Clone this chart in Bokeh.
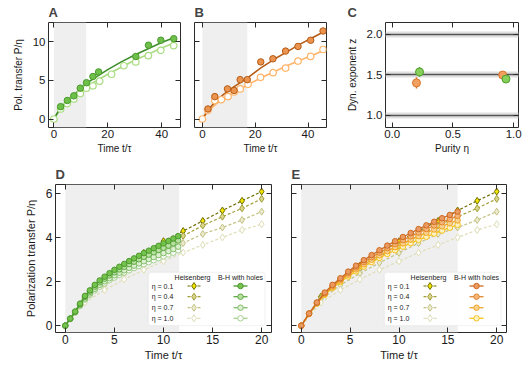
from bokeh.plotting import figure
from bokeh.layouts import column, row
from bokeh.models import (LinearAxis, FixedTicker, BoxAnnotation, Label, Range1d,
                          PrintfTickFormatter)
from bokeh.embed import file_html
from bokeh.resources import INLINE

FONT = "Liberation Sans"

# ---------------- Panel A data (green) ----------------
tA_fill = [2.5, 5.0, 7.4, 9.8, 12.1, 14.5, 16.6, 30.4, 35.1, 39.7, 44.5]
PA_fill = [1.6, 2.4, 3.0, 4.0, 4.7, 5.5, 6.1, 8.1, 9.56, 10.2, 10.4]
errA = [0.3, 0.3, 0.3, 0.3, 0.3, 0.3, 0.3, 0.3, 0.3, 0.3, 0.3]
tA_open = [0, 2.5, 5.0, 7.4, 9.8, 12.1, 14.5, 17.0, 21.4, 26.0, 30.4, 35.1, 39.7, 44.5]
PA_open = [0, 1.3, 2.0, 2.6, 3.3, 4.0, 4.3, 4.9, 5.8, 6.9, 7.4, 8.2, 8.9, 9.5]
tA_fit = [0, 2, 5, 8, 12, 15, 20, 25, 30, 35, 40, 45]
PA_fit_dark = [0, 1.2, 2.4, 3.3, 4.6, 5.3, 6.4, 7.4, 8.3, 9.1, 9.9, 10.6]
PA_fit_light = [0, 1.05, 2.1, 3.0, 4.1, 4.8, 5.8, 6.7, 7.6, 8.4, 9.2, 9.9]
shade_A = 12

# ---------------- Panel B data (orange) ----------------
tB_fill = [2.1, 4.7, 9.5, 12.0, 14.3, 17.0, 22.1, 26.7, 31.5, 36.2, 41.0, 45.7]
PB_fill = [1.3, 2.9, 3.9, 3.7, 5.1, 5.1, 7.4, 7.8, 8.8, 9.4, 10.2, 11.4]
errB = [0.3, 0.3, 0.3, 0.3, 0.3, 0.3, 0.3, 0.3, 0.3, 0.3, 0.3, 0.3]
tB_open = [0, 2.1, 4.7, 7.2, 9.7, 12.0, 14.3, 17.3, 22.0, 26.8, 31.5, 36.2, 41.0, 45.7]
PB_open = [0, 1.1, 2.4, 2.5, 2.9, 3.5, 3.9, 4.5, 5.4, 6.0, 6.6, 7.5, 8.1, 9.0]
tB_fit = [0, 2, 5, 8, 12, 17, 22, 27, 32, 37, 42, 46]
PB_fit_dark = [0, 1.1, 2.3, 3.2, 4.2, 5.3, 6.6, 7.7, 8.7, 9.7, 10.6, 11.3]
PB_fit_light = [0, 0.95, 1.9, 2.6, 3.4, 4.4, 5.3, 6.1, 6.9, 7.6, 8.3, 8.9]
shade_B = 17

# ---------------- Panel C data ----------------
z_levels = [1.0, 1.5, 2.0]
C_orange_eta = [0.20, 0.91]
C_orange_z = [1.40, 1.497]
C_orange_err = [0.07, 0.02]
C_green_eta = [0.225, 0.937]
C_green_z = [1.535, 1.448]
C_green_err = [0.06, 0.02]

# ---------------- Panels D/E data ----------------
eta_labels = ["η = 0.1", "η = 0.4", "η = 0.7", "η = 1.0"]
t_heis = [0, 2, 4, 6, 8, 10, 12, 14, 16, 18, 20]
P_heis = [
    [0, 1.31, 2.08, 2.72, 3.30, 3.83, 4.29, 4.75, 5.22, 5.66, 6.08],
    [0, 1.26, 1.98, 2.58, 3.12, 3.62, 4.07, 4.54, 4.94, 5.32, 5.75],
    [0, 1.18, 1.84, 2.37, 2.85, 3.30, 3.74, 4.16, 4.45, 4.79, 5.17],
    [0, 1.05, 1.62, 2.10, 2.53, 2.92, 3.31, 3.66, 4.00, 4.34, 4.60],
]
t_D = [0, 0.5, 1, 1.5, 2, 2.5, 3, 3.5, 4, 4.5, 5, 5.5, 6, 6.5, 7, 7.5, 8, 8.5, 9, 9.5,
       10, 10.5, 11, 11.5]
P_D = [
    [0, 0.32, 0.64, 1.0, 1.35, 1.6, 1.85, 2.05, 2.22, 2.38, 2.53, 2.67, 2.8, 2.93, 3.05,
     3.17, 3.29, 3.4, 3.51, 3.62, 3.73, 3.84, 3.95, 4.06],
    [0, 0.32, 0.63, 0.97, 1.3, 1.54, 1.77, 1.96, 2.13, 2.28, 2.42, 2.55, 2.67, 2.79, 2.9,
     3.01, 3.12, 3.22, 3.33, 3.43, 3.53, 3.63, 3.73, 3.86],
    [0, 0.31, 0.61, 0.93, 1.23, 1.46, 1.67, 1.85, 2.01, 2.15, 2.28, 2.4, 2.51, 2.62, 2.72,
     2.82, 2.92, 3.02, 3.11, 3.2, 3.29, 3.38, 3.47, 3.58],
    [0, 0.3, 0.6, 0.9, 1.18, 1.4, 1.6, 1.77, 1.92, 2.06, 2.18, 2.3, 2.41, 2.51, 2.61,
     2.7, 2.79, 2.88, 2.97, 3.06, 3.14, 3.23, 3.31, 3.42],
]
shade_D = 11.6
t_E = [0, 0.8, 1.6, 2.4, 3.2, 4.0, 4.8, 5.6, 6.4, 7.2, 8.0, 8.8, 9.6, 10.4, 11.2, 12.0,
       12.8, 13.6, 14.4, 15.2, 16.0]
P_E = [
    [0, 0.55, 1.05, 1.5, 1.85, 2.15, 2.45, 2.72, 2.97, 3.2, 3.42, 3.63, 3.83, 4.02, 4.2,
     4.38, 4.55, 4.71, 4.87, 5.02, 5.17],
    [0, 0.55, 1.04, 1.47, 1.81, 2.1, 2.38, 2.64, 2.88, 3.1, 3.31, 3.51, 3.7, 3.88, 4.05,
     4.22, 4.38, 4.54, 4.69, 4.84, 4.98],
    [0, 0.54, 1.02, 1.43, 1.76, 2.04, 2.31, 2.55, 2.78, 2.99, 3.19, 3.38, 3.56, 3.73, 3.9,
     4.06, 4.21, 4.36, 4.5, 4.64, 4.77],
    [0, 0.53, 1.0, 1.4, 1.71, 1.98, 2.23, 2.46, 2.68, 2.88, 3.07, 3.25, 3.42, 3.58, 3.74,
     3.89, 4.03, 4.17, 4.31, 4.44, 4.57],
]
shade_E = 16

# colours
H_line = ["#6e6e00", "#a29e38", "#c4c184", "#dfddb6"]
H_fill = ["#f2e400", "#d9d68c", "#ecebcd", "#ffffff"]
G_line = ["#4a9a2c", "#5fa842", "#82bd68", "#a6d18e"]
G_fill = ["#76c24e", "#b8e0a0", "#dcefd0", "#ffffff"]
O_line = ["#cc6a22", "#e2872e", "#f0a524", "#f7c21a"]
O_fill = ["#eb9a62", "#f5b577", "#f9d28f", "#fff2c4"]
FRAME = "#2b2b2b"
SHADE = "#efefef"


def hide_labels(ax):
    ax.major_label_text_font_size = "0px"
    ax.major_label_text_color = None
    ax.major_label_standoff = 0


def panel(width, height, xr, yr, borders, xticks, yticks, xlabel, ylabel, ylabels_on,
          letter, letter_offset, letter_standoff, tick_fs, label_fs, fmt=None):
    l, r, t, b = borders
    p = figure(width=width, height=height, x_range=Range1d(*xr), y_range=Range1d(*yr),
               output_backend="svg", toolbar_location=None,
               min_border_left=l, min_border_right=r, min_border_top=t, min_border_bottom=b)
    p.outline_line_color = FRAME
    p.outline_line_width = 1
    p.grid.grid_line_color = None
    top_ax = LinearAxis()
    right_ax = LinearAxis()
    p.add_layout(top_ax, "above")
    p.add_layout(right_ax, "right")
    for ax in p.xaxis:
        ax.ticker = FixedTicker(ticks=xticks)
    for ax in p.yaxis:
        ax.ticker = FixedTicker(ticks=yticks)
    for ax in p.axis:
        if fmt is not None:
            ax.formatter = PrintfTickFormatter(format=fmt)
        ax.axis_line_color = None
        ax.major_tick_in = 5
        ax.major_tick_out = 0
        ax.major_tick_line_color = FRAME
        ax.minor_tick_line_color = None
        ax.major_label_text_font = FONT
        ax.major_label_text_font_size = tick_fs
        ax.major_label_text_color = "#1a1a1a"
        ax.axis_label_text_font = FONT
        ax.axis_label_text_font_size = label_fs
        ax.axis_label_text_font_style = "normal"
        ax.axis_label_text_color = "#1a1a1a"
    bottom = p.below[0]
    left = p.left[0]
    bottom.axis_label = xlabel
    bottom.major_label_standoff = 2
    bottom.axis_label_standoff = 2
    hide_labels(top_ax)
    hide_labels(right_ax)
    if ylabels_on:
        left.axis_label = ylabel
        left.major_label_standoff = 3
        left.axis_label_standoff = 6
    else:
        hide_labels(left)
    p.title.text = letter
    p.title.text_font = FONT
    p.title.text_font_size = "13px"
    p.title.text_font_style = "bold"
    p.title.align = "left"
    p.title.offset = letter_offset
    p.title.standoff = letter_standoff
    return p


# ---------------- A ----------------
pA = panel(188, 160, (-2, 47), (-1.1, 12.5), (48, 8, 22, 33), [0, 20, 40], [0, 5, 10],
           "Time t/τ", "Pol. transfer P/η", True, "A", 0, 5, "11.5px", "10px")
pA.add_layout(BoxAnnotation(left=0, right=shade_A, fill_color=SHADE, fill_alpha=1,
                            line_color=None, level="underlay"))
pA.line(tA_fit, PA_fit_light, line_color="#a9dc80", line_width=1.6)
pA.line(tA_fit, PA_fit_dark, line_color="#3e8e2a", line_width=1.6)
pA.scatter(tA_open, PA_open, size=6.5, marker="circle", fill_color="white",
           line_color="#a9dc80", line_width=1.2)
pA.segment(x0=tA_fill, y0=[v - e for v, e in zip(PA_fill, errA)], x1=tA_fill,
           y1=[v + e for v, e in zip(PA_fill, errA)], line_color="#3e8e2a", line_width=1.2)
pA.scatter(tA_fill, PA_fill, size=6.5, marker="circle", fill_color="#6fbf4b",
           line_color="#4a9a2c", line_width=1)

# ---------------- B ----------------
pB = panel(146, 160, (-3, 47), (-1.1, 12.5), (6, 8, 22, 33), [0, 20, 40], [0, 5, 10],
           "Time t/τ", "", False, "B", 0, 5, "11.5px", "10px")
pB.add_layout(BoxAnnotation(left=0, right=shade_B, fill_color=SHADE, fill_alpha=1,
                            line_color=None, level="underlay"))
pB.line(tB_fit, PB_fit_light, line_color="#ffb469", line_width=1.6)
pB.line(tB_fit, PB_fit_dark, line_color="#b65c16", line_width=1.6)
pB.scatter(tB_open, PB_open, size=6.5, marker="circle", fill_color="white",
           line_color="#ffb469", line_width=1.2)
pB.segment(x0=tB_fill, y0=[v - e for v, e in zip(PB_fill, errB)], x1=tB_fill,
           y1=[v + e for v, e in zip(PB_fill, errB)], line_color="#b65c16", line_width=1.2)
pB.scatter(tB_fill, PB_fill, size=6.5, marker="circle", fill_color="#ea9450",
           line_color="#b65c16", line_width=1)

# ---------------- C ----------------
pC = panel(195, 160, (-0.055, 1.04), (0.85, 2.145), (51, 11, 22, 33), [0, 0.5, 1.0],
           [1.0, 1.5, 2.0], "Purity η", "Dyn. exponent z", True, "C", -38, 5, "11.5px",
           "10px", fmt="%.1f")
pC.hspan(y=z_levels, line_width=6, line_color="#e0e0e0")
pC.hspan(y=z_levels, line_width=1.6, line_color="#555555")
pC.segment(x0=C_orange_eta, y0=[v - e for v, e in zip(C_orange_z, C_orange_err)],
           x1=C_orange_eta, y1=[v + e for v, e in zip(C_orange_z, C_orange_err)],
           line_color="#d8742a", line_width=1.5)
pC.scatter(C_orange_eta, C_orange_z, size=8, fill_color="#f2a060", line_color="#d8742a",
           line_width=1)
pC.segment(x0=C_green_eta, y0=[v - e for v, e in zip(C_green_z, C_green_err)],
           x1=C_green_eta, y1=[v + e for v, e in zip(C_green_z, C_green_err)],
           line_color="#4fa02c", line_width=1.5)
pC.scatter(C_green_eta, C_green_z, size=8, fill_color="#86cf5a", line_color="#4fa02c",
           line_width=1)


# ---------------- D / E ----------------
def add_legend(p, xr, yr, fw, fh, bh_line, bh_fill):
    def X(px):
        return xr[0] + px / fw * (xr[1] - xr[0])

    def Y(py):
        return yr[1] - py / fh * (yr[1] - yr[0])

    p.add_layout(BoxAnnotation(left=X(92.8), right=X(209.5), top=Y(87.8), bottom=Y(141.2),
                               fill_color="white", fill_alpha=0.9, line_color="#cfcfcf",
                               line_width=1, border_radius=3, level="annotation"))
    p.add_layout(Label(x=X(137), y=Y(92.8), text="Heisenberg", text_font=FONT,
                       text_font_size="7px", text_align="center", text_baseline="middle",
                       text_color="#1a1a1a", level="overlay"))
    p.add_layout(Label(x=X(185), y=Y(92.8), text="B-H with holes", text_font=FONT,
                       text_font_size="7px", text_align="center", text_baseline="middle",
                       text_color="#1a1a1a", level="overlay"))
    rows = [101.5, 112.2, 123.2, 133.8]
    for i, lab in enumerate(eta_labels):
        yy = Y(rows[i])
        p.add_layout(Label(x=X(96.2), y=yy, text=lab, text_font=FONT, text_font_size="7px",
                           text_align="left", text_baseline="middle", text_color="#1a1a1a",
                           level="overlay"))
        p.line([X(132), X(145)], [yy, yy], line_color=H_line[i], line_width=1.2,
               line_dash="3 2", level="overlay")
        p.scatter([X(138.5)], [yy], marker="diamond", size=7, fill_color=H_fill[i],
                  line_color=H_line[i], line_width=1, level="overlay")
        p.line([X(178), X(192)], [yy, yy], line_color=bh_line[i], line_width=1.3,
               level="overlay")
        p.scatter([X(185)], [yy], marker="circle", size=5.5, fill_color=bh_fill[i],
                  line_color=bh_line[i], line_width=1, level="overlay")


def draw_heis(p):
    for i in range(4):
        p.line(t_heis, P_heis[i], line_color=H_line[i], line_width=1.2, line_dash="3 2")
        p.scatter(t_heis, P_heis[i], marker="diamond", size=7, fill_color=H_fill[i],
                  line_color=H_line[i], line_width=1)


xr_DE = (-1, 21)
yr_DE = (-0.31, 6.4)

pD = panel(281, 206, xr_DE, yr_DE, (55, 10, 24, 34), [0, 5, 10, 15, 20], [0, 2, 4, 6],
           "Time t/τ", "Polarization transfer P/η", True, "D", 0, 6, "12px", "11px")
pD.add_layout(BoxAnnotation(left=0, right=shade_D, fill_color=SHADE, fill_alpha=1,
                            line_color=None, level="underlay"))
draw_heis(pD)
for i in [3, 2, 1, 0]:
    pD.line(t_D, P_D[i], line_color=G_line[i], line_width=1.3)
    pD.scatter(t_D, P_D[i], marker="circle", size=5.5, fill_color=G_fill[i],
               line_color=G_line[i], line_width=1)
add_legend(pD, xr_DE, yr_DE, 281 - 55 - 10, 206 - 24 - 34, G_line, G_fill)

pE = panel(248, 206, xr_DE, yr_DE, (10, 23, 24, 34), [0, 5, 10, 15, 20], [0, 2, 4, 6],
           "Time t/τ", "", False, "E", 0, 6, "12px", "11px")
pE.add_layout(BoxAnnotation(left=0, right=shade_E, fill_color=SHADE, fill_alpha=1,
                            line_color=None, level="underlay"))
draw_heis(pE)
for i in [3, 2, 1, 0]:
    pE.line(t_E, P_E[i], line_color=O_line[i], line_width=1.3)
    pE.scatter(t_E, P_E[i], marker="circle", size=5.5, fill_color=O_fill[i],
               line_color=O_line[i], line_width=1)
add_legend(pE, xr_DE, yr_DE, 248 - 10 - 23, 206 - 24 - 34, O_line, O_fill)

layout = column(row(pA, pB, pC, spacing=0), row(pD, pE, spacing=0), spacing=0)
open("out.html", "w").write(file_html(layout, INLINE))
